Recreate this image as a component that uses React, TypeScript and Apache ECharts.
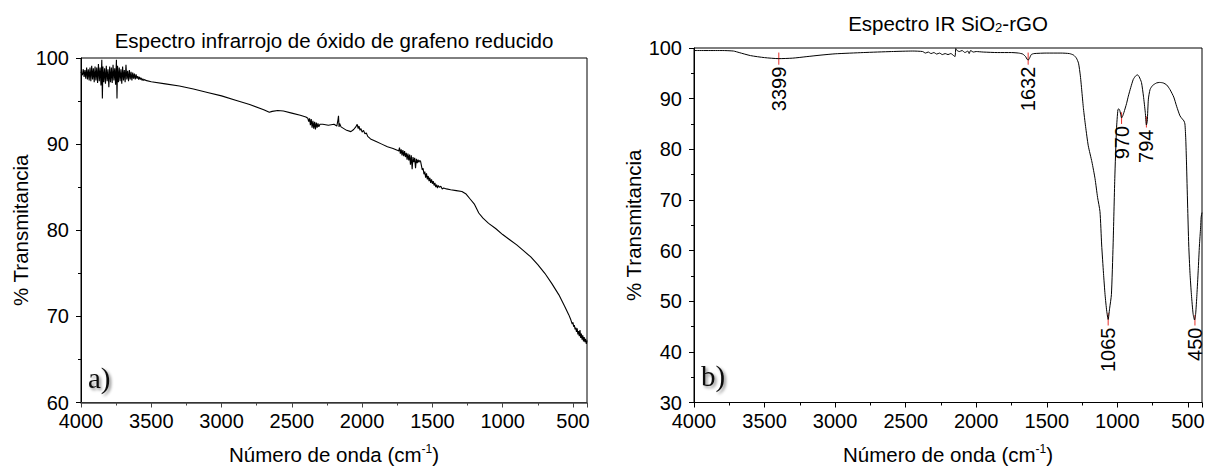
import React, { useEffect, useRef } from "react";
import * as echarts from "echarts";

const FONT = "'Liberation Sans', Arial, sans-serif";
const SERIF = "'Liberation Serif', 'Times New Roman', serif";

// ---- Data ----
const leftTitle = "Espectro infrarrojo de óxido de grafeno reducido";
const rightTitleParts = ["Espectro IR SiO", "2", "-rGO"];
const xAxisTitleParts = ["Número de onda (cm", "-1", ")"];
const yAxisTitle = "% Transmitancia";

// [wavenumber cm-1, % transmittance] — reduced graphene oxide
const leftSpectrum: [number, number][] = [
  [4000, 98.4], [3996, 98.4], [3990, 98.0], [3984, 98.7], [3978, 97.8], [3972, 98.6], [3966, 97.6],
  [3960, 98.9], [3954, 97.5], [3948, 98.7], [3942, 97.4], [3936, 98.9], [3930, 97.3], [3924, 99.1],
  [3918, 97.5], [3912, 98.8], [3906, 97.2], [3900, 99.0], [3894, 97.4], [3888, 98.9], [3882, 97.1],
  [3876, 99.3], [3870, 97.3], [3864, 98.9], [3858, 96.8], [3852, 99.8], [3848, 95.3], [3844, 99.0],
  [3838, 97.2], [3832, 98.8], [3826, 97.0], [3820, 99.1], [3814, 97.3], [3808, 98.7], [3802, 96.6],
  [3796, 99.0], [3790, 97.2], [3784, 98.9], [3778, 97.1], [3772, 99.2], [3766, 97.4], [3760, 98.8],
  [3754, 96.9], [3748, 99.8], [3744, 95.3], [3740, 99.1], [3734, 97.2], [3728, 98.9], [3722, 97.3],
  [3716, 98.7], [3710, 97.0], [3704, 99.0], [3698, 97.4], [3692, 98.6], [3686, 97.2], [3680, 99.2],
  [3674, 97.5], [3668, 98.5], [3662, 97.3], [3656, 98.6], [3650, 97.5], [3644, 98.4], [3638, 97.4],
  [3632, 98.3], [3626, 97.6], [3620, 98.2], [3614, 97.5], [3608, 98.1], [3602, 97.6], [3596, 97.9],
  [3590, 97.5], [3584, 97.8], [3578, 97.5], [3572, 97.7], [3566, 97.4], [3560, 97.6], [3554, 97.4],
  [3548, 97.5], [3540, 97.4], [3500, 97.25], [3400, 97.0], [3300, 96.75], [3200, 96.4], [3100, 96.0],
  [3000, 95.6], [2900, 95.1], [2800, 94.6], [2700, 94.0], [2660, 93.7], [2640, 93.8], [2600, 93.9],
  [2560, 93.85], [2500, 93.6], [2440, 93.35], [2400, 93.15], [2386, 93.0], [2380, 92.6], [2374, 93.0],
  [2368, 92.2], [2362, 92.9], [2356, 91.9], [2350, 92.7], [2344, 91.8], [2338, 92.6], [2332, 91.7],
  [2326, 92.5], [2320, 91.9], [2314, 92.4], [2308, 92.0], [2300, 92.3], [2280, 92.3], [2240, 92.2],
  [2200, 92.3], [2180, 92.1], [2172, 92.8], [2168, 93.3], [2164, 92.0], [2160, 92.4], [2150, 92.0],
  [2130, 91.8], [2110, 91.6], [2080, 91.45], [2060, 91.7], [2045, 92.0], [2035, 92.3], [2028, 91.8],
  [2022, 92.1], [2015, 91.6], [2008, 91.8], [2000, 91.4], [1990, 91.6], [1980, 91.2], [1970, 91.3],
  [1960, 90.9], [1940, 90.6], [1900, 90.3], [1860, 90.0], [1820, 89.7], [1780, 89.5], [1750, 89.3],
  [1740, 89.2], [1734, 89.6], [1728, 88.9], [1722, 89.4], [1716, 88.7], [1710, 89.3], [1704, 88.6],
  [1698, 89.2], [1692, 88.5], [1686, 89.0], [1680, 88.2], [1674, 88.9], [1668, 88.1], [1662, 88.8],
  [1656, 87.6], [1650, 88.7], [1644, 87.1], [1638, 88.5], [1632, 87.9], [1626, 88.4], [1620, 87.2],
  [1614, 88.3], [1608, 87.8], [1602, 88.2], [1596, 87.9], [1590, 88.1], [1584, 88.0], [1578, 87.5],
  [1572, 87.0], [1566, 87.2], [1560, 86.5], [1554, 86.8], [1548, 86.1], [1542, 86.6], [1536, 85.9],
  [1530, 86.3], [1524, 85.7], [1518, 86.1], [1512, 85.5], [1506, 85.9], [1500, 85.4], [1494, 85.7],
  [1488, 85.2], [1482, 85.5], [1476, 85.0], [1470, 85.3], [1464, 84.9], [1458, 85.2], [1450, 85.0],
  [1440, 85.1], [1430, 84.8], [1420, 84.9], [1400, 84.8], [1370, 84.7], [1330, 84.6], [1290, 84.5],
  [1260, 84.2], [1230, 83.6], [1200, 83.0], [1170, 82.0], [1140, 81.4], [1100, 80.8], [1050, 80.2],
  [1000, 79.5], [950, 78.9], [900, 78.3], [850, 77.6], [800, 76.9], [750, 76.0], [700, 75.0],
  [650, 73.8], [600, 72.5], [560, 71.2], [530, 70.2], [515, 69.6], [505, 69.1], [500, 69.3],
  [495, 68.8], [490, 69.0], [485, 68.5], [480, 68.7], [475, 68.2], [470, 68.6], [465, 67.9],
  [460, 68.3], [455, 67.7], [450, 68.4], [445, 67.5], [440, 68.0], [435, 67.3], [430, 67.8],
  [425, 67.1], [420, 67.6], [415, 67.0], [410, 67.4], [405, 66.8], [400, 67.2],
];

// [wavenumber cm-1, % transmittance] — SiO2-rGO
const rightSpectrum: [number, number][] = [
  [4000, 99.5], [3800, 99.5], [3720, 99.4], [3680, 99.1], [3600, 98.5], [3500, 98.1], [3399, 97.9],
  [3300, 98.0], [3200, 98.3], [3100, 98.6], [3000, 98.85], [2800, 99.1], [2600, 99.3], [2450, 99.4],
  [2380, 99.3], [2360, 99.0], [2340, 99.2], [2320, 98.9], [2300, 99.1], [2280, 98.8], [2260, 99.0],
  [2240, 98.7], [2220, 98.9], [2200, 98.7], [2180, 98.9], [2160, 98.5], [2150, 98.3], [2145, 99.9],
  [2140, 99.6], [2120, 99.3], [2100, 99.5], [2080, 99.1], [2060, 99.4], [2050, 98.9], [2040, 99.5],
  [2020, 99.2], [2000, 99.3], [1950, 99.2], [1850, 99.1], [1750, 99.1], [1700, 99.0], [1670, 98.8],
  [1650, 98.3], [1640, 97.8], [1632, 97.6], [1622, 98.0], [1610, 98.7], [1590, 98.9], [1500, 99.0],
  [1400, 99.0], [1340, 98.9], [1310, 98.6], [1290, 98.0], [1275, 97.0], [1262, 94.5], [1250, 91.0],
  [1240, 88.0], [1225, 84.5], [1206, 80.7], [1180, 77.5], [1158, 74.2], [1140, 70.5], [1123, 67.7],
  [1111, 61.1], [1098, 55.5], [1087, 51.3], [1075, 48.0], [1065, 46.4], [1055, 48.5], [1042, 51.3],
  [1030, 61.1], [1018, 74.2], [1006, 84.0], [996, 87.8], [990, 88.0], [982, 87.6], [975, 86.7],
  [970, 86.2], [963, 86.5], [953, 87.3], [935, 89.0], [922, 90.5], [905, 92.2], [887, 93.8],
  [870, 94.5], [857, 94.7], [845, 94.3], [829, 93.2], [815, 90.5], [802, 87.3], [794, 84.8],
  [788, 85.5], [780, 89.9], [768, 91.8], [750, 92.6], [722, 93.1], [700, 93.2], [675, 93.1],
  [650, 92.7], [627, 91.8], [600, 90.3], [580, 88.5], [556, 86.6], [540, 86.0], [528, 85.6],
  [521, 85.0], [515, 82.0], [510, 77.5], [502, 69.0], [494, 61.1], [485, 55.5], [475, 51.3],
  [463, 47.5], [453, 46.3], [445, 47.5], [436, 51.3], [427, 56.0], [418, 61.1], [410, 64.5],
  [406, 66.6], [400, 67.5],
];

const peakWavenumbers = [3399, 1632, 1065, 970, 794, 450];
const peakLineTop = [99.1, 99.1, 47.7, 87.3, 86.5, 47.3];
const peakLineBottom = [96.7, 96.7, 45.2, 85.0, 84.3, 45.2];
const peakLabels = ["3399", "1632", "1065", "970", "794", "450"];

const panelLabels = ["a)", "b)"];

export default function App() {
  const ref = useRef<HTMLDivElement>(null);

  useEffect(() => {
    if (!ref.current) return;
    const chart = echarts.init(ref.current, null, { renderer: "svg" });

    const nameRich = {
      n: { fontFamily: FONT, fontSize: 20.5, color: "#000", lineHeight: 24, verticalAlign: "middle" },
      sup: { fontFamily: FONT, fontSize: 12, color: "#000", lineHeight: 24, verticalAlign: "top" },
    };
    const xName = `{n|${xAxisTitleParts[0]}}{sup|${xAxisTitleParts[1]}}{n|${xAxisTitleParts[2]}}`;

    const xAxisBase = (gridIndex: number, lineColor: string, lineWidth: number) => ({
      type: "value",
      gridIndex,
      inverse: true,
      min: 400,
      max: 4000,
      splitNumber: 7,
      name: xName,
      nameLocation: "middle",
      nameGap: 40,
      nameTextStyle: { rich: nameRich },
      axisLine: { show: true, onZero: false, lineStyle: { color: lineColor, width: lineWidth } },
      axisTick: { show: true, length: 5, lineStyle: { color: lineColor } },
      minorTick: { show: true, splitNumber: 2, length: 3, lineStyle: { color: lineColor } },
      splitLine: { show: false },
      axisLabel: {
        showMinLabel: false,
        margin: 8,
        fontFamily: FONT,
        fontSize: 20,
        color: "#000",
        formatter: (v: number) => (v % 500 === 0 ? String(v) : ""),
      },
    });

    const yAxisBase = (gridIndex: number, min: number) => ({
      type: "value",
      gridIndex,
      min,
      max: 100,
      interval: 10,
      name: yAxisTitle,
      nameLocation: "middle",
      nameRotate: 90,
      nameGap: 50,
      nameTextStyle: { fontFamily: FONT, fontSize: 20.5, color: "#000" },
      axisLine: { show: true, lineStyle: { color: "#000", width: 1 } },
      axisTick: { show: true, length: 5, lineStyle: { color: "#000" } },
      minorTick: { show: true, splitNumber: 2, length: 3, lineStyle: { color: "#000" } },
      splitLine: { show: false },
      axisLabel: { margin: 12, fontFamily: FONT, fontSize: 20, color: "#000" },
    });

    chart.setOption({
      animation: false,
      backgroundColor: "#fff",
      grid: [
        { left: 81, right: 1211 - 587, top: 58, bottom: 470 - 404, show: true, borderColor: "#000", borderWidth: 1 },
        { left: 694, right: 1211 - 1202, top: 48, bottom: 470 - 405, show: true, borderColor: "#000", borderWidth: 1 },
      ],
      xAxis: [xAxisBase(0, "#444", 1.5), xAxisBase(1, "#000", 1)],
      yAxis: [yAxisBase(0, 60), yAxisBase(1, 30)],
      series: [
        {
          type: "line",
          xAxisIndex: 0,
          yAxisIndex: 0,
          data: leftSpectrum,
          showSymbol: false,
          symbol: "none",
          silent: true,
          lineStyle: { color: "#000", width: 1.1 },
        },
        {
          type: "line",
          xAxisIndex: 1,
          yAxisIndex: 1,
          data: rightSpectrum,
          showSymbol: false,
          symbol: "none",
          silent: true,
          smooth: 0.2,
          lineStyle: { color: "#000", width: 1 },
        },
        {
          type: "custom",
          xAxisIndex: 1,
          yAxisIndex: 1,
          silent: true,
          data: peakWavenumbers.map((w, i) => [w, peakLineTop[i], peakLineBottom[i], i]),
          encode: { x: 0, y: [1, 2] },
          renderItem: (_params: any, api: any) => {
            const w = api.value(0);
            const p1 = api.coord([w, api.value(1)]);
            const p2 = api.coord([w, api.value(2)]);
            const idx = api.value(3);
            return {
              type: "group",
              children: [
                {
                  type: "line",
                  shape: { x1: p1[0], y1: p1[1], x2: p2[0], y2: p2[1] },
                  style: { stroke: "#e8302a", lineWidth: 1 },
                },
                {
                  type: "text",
                  x: p2[0],
                  y: p2[1] + 2,
                  rotation: Math.PI / 2,
                  style: {
                    text: peakLabels[idx],
                    align: "right",
                    verticalAlign: "middle",
                    font: `20px ${FONT}`,
                    fill: "#000",
                  },
                },
              ],
            };
          },
        },
      ],
      graphic: [
        {
          type: "text",
          x: 334,
          y: 40,
          style: {
            text: leftTitle,
            align: "center",
            verticalAlign: "middle",
            font: `20.5px ${FONT}`,
            fill: "#000",
          },
        },
        {
          type: "text",
          x: 948,
          y: 23,
          style: {
            text: `{n|${rightTitleParts[0]}}{sub|${rightTitleParts[1]}}{n|${rightTitleParts[2]}}`,
            align: "center",
            verticalAlign: "middle",
            rich: {
              n: { fontFamily: FONT, fontSize: 20.5, fill: "#000", lineHeight: 22, verticalAlign: "middle" },
              sub: { fontFamily: FONT, fontSize: 13, fill: "#000", lineHeight: 22, verticalAlign: "bottom" },
            },
          },
        },
        {
          type: "text",
          x: 88,
          y: 378,
          style: {
            text: panelLabels[0],
            align: "left",
            verticalAlign: "middle",
            font: `29px ${SERIF}`,
            fill: "#111",
            textShadowColor: "rgba(0,0,0,0.45)",
            textShadowBlur: 3,
            textShadowOffsetX: 2,
            textShadowOffsetY: 2,
          },
        },
        {
          type: "text",
          x: 701,
          y: 376,
          style: {
            text: panelLabels[1],
            align: "left",
            verticalAlign: "middle",
            font: `29px ${SERIF}`,
            fill: "#111",
            textShadowColor: "rgba(0,0,0,0.45)",
            textShadowBlur: 3,
            textShadowOffsetX: 2,
            textShadowOffsetY: 2,
          },
        },
      ],
    });

    return () => chart.dispose();
  }, []);

  return (
    <div
      ref={ref}
      style={{ position: "fixed", left: 0, top: 0, width: 1211, height: 470, background: "#fff" }}
    />
  );
}
